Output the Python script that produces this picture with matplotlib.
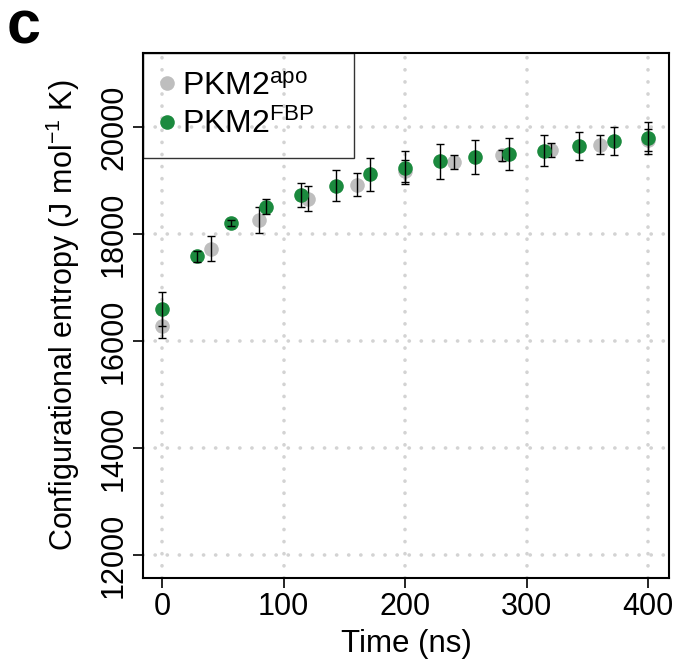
import matplotlib
matplotlib.use('Agg')
import matplotlib.pyplot as plt

plt.rcParams['font.family'] = ['Liberation Sans', 'DejaVu Sans']
plt.rcParams['mathtext.fontset'] = 'custom'
plt.rcParams['mathtext.rm'] = 'Liberation Sans'
plt.rcParams['mathtext.it'] = 'Liberation Sans:italic'

# PKM2 apo
t_apo = [0, 40, 80, 120, 160, 200, 240, 280, 320, 360, 400]
s_apo = [16274, 17725, 18257, 18660, 18921, 19175, 19343, 19467, 19572, 19671, 19758]
e_apo = [223, 236, 248, 236, 214, 200, 136, 108, 130, 174, 211]

# PKM2 FBP
t_fbp = [0, 28.6, 57.1, 85.7, 114.3, 142.9, 171.4, 200, 228.6, 257.1, 285.7, 314.3, 342.9, 371.4, 400]
s_fbp = [16595, 17581, 18201, 18512, 18722, 18902, 19113, 19237, 19355, 19436, 19492, 19554, 19647, 19740, 19789]
e_fbp = [316, 100, 60, 140, 226, 285, 313, 310, 329, 313, 301, 291, 264, 260, 298]

xticks = [0, 100, 200, 300, 400]
yticks = [12000, 14000, 16000, 18000, 20000]

fig = plt.figure(figsize=(6.77, 6.63), dpi=100)
ax = fig.add_axes([0.2112, 0.1282, 0.9882 - 0.2112, 0.9201 - 0.1282])

grid_style = dict(color='#d3d3d3', lw=2.6, linestyle=(0, (0.05, 3.3)),
                  dash_capstyle='round', zorder=0)
for x in xticks:
    ax.axvline(x, **grid_style)
for y in yticks:
    ax.axhline(y, **grid_style)

ax.plot(t_apo, s_apo, 'o', color='#bebebe', ms=10.5, mec='none', label=r'PKM2$^{\rm apo}$', zorder=2)
ax.errorbar(t_apo, s_apo, yerr=e_apo, fmt='none', ecolor='black', elinewidth=1,
            capsize=2.8, capthick=1, zorder=3)
ax.plot(t_fbp, s_fbp, 'o', color='#1b8a3e', ms=10.5, mec='none', label=r'PKM2$^{\rm FBP}$', zorder=4)
ax.errorbar(t_fbp, s_fbp, yerr=e_fbp, fmt='none', ecolor='black', elinewidth=1,
            capsize=2.8, capthick=1, zorder=5)

ax.set_xlim(-15.6, 417)
ax.set_ylim(11570, 21383)
ax.set_xticks(xticks)
ax.set_yticks(yticks)
ax.tick_params(labelsize=22, length=7, width=1.2, color='black', pad=3)
for lbl in ax.get_yticklabels():
    lbl.set_rotation(90)
    lbl.set_va('center')
for sp in ax.spines.values():
    sp.set_linewidth(1.5)

ax.set_xlabel('Time (ns)', fontsize=22.5, labelpad=5)
ax.set_ylabel(r'Configurational entropy (J mol$^{-1}$ K)', fontsize=22, labelpad=12)

leg = ax.legend(loc='upper left', bbox_to_anchor=(0, 0, 211 / 526, 1), mode='expand',
                borderaxespad=0, fontsize=23, frameon=True, markerscale=1.0,
                fancybox=False, edgecolor='black', facecolor='none',
                handletextpad=0.3, handlelength=0.35, borderpad=0.58, labelspacing=0.22)
leg.get_frame().set_linewidth(1.0)

fig.text(0.01, 1.0, 'c', fontsize=44, fontweight='bold', va='top', ha='left')

fig.savefig('out.png', dpi=100)
